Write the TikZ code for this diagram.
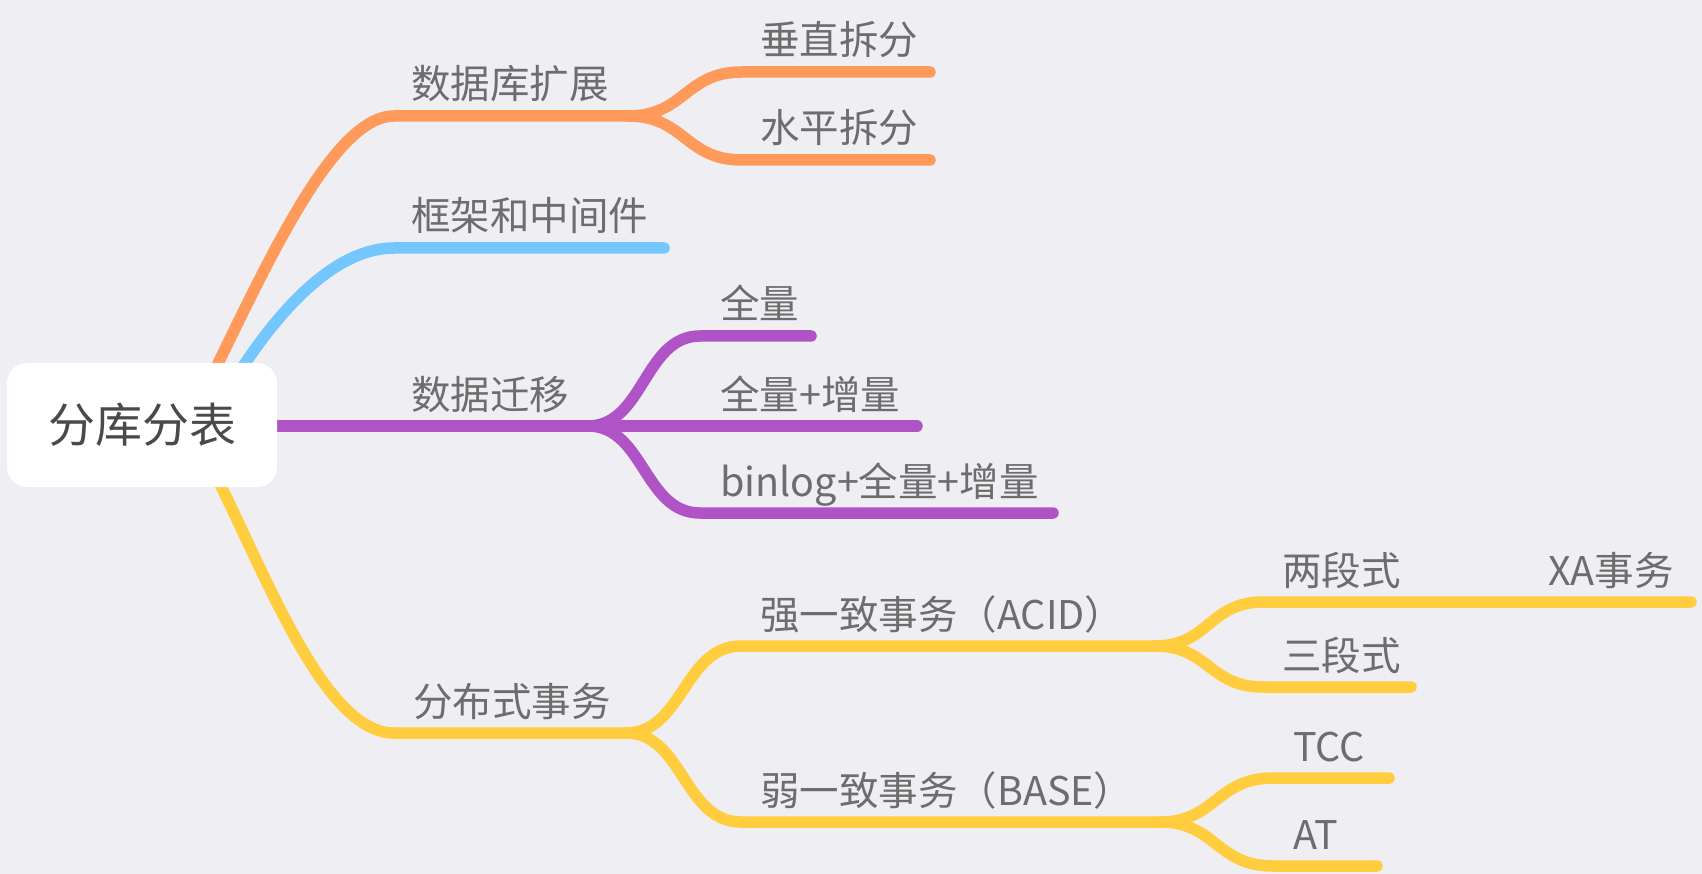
\documentclass[tikz,border=0pt]{standalone}
\usepackage{fontspec}
\setmainfont{Noto Sans CJK SC}
\definecolor{bg}{HTML}{EEEEF3}
\definecolor{orangeL}{HTML}{FF9A5B}
\definecolor{blueL}{HTML}{74C7FE}
\definecolor{purpleL}{HTML}{B053C7}
\definecolor{yellowL}{HTML}{FFCD3D}
\definecolor{txt}{HTML}{6D6D6D}
\definecolor{roottxt}{HTML}{4A4A4A}
\tikzset{
  lbl/.style={anchor=base west, inner sep=0pt, text=txt, font=\fontsize{39.5}{40}\selectfont},
  br/.style={line width=11.5pt, line cap=round, line join=round},
  rootbox/.style={fill=white, rounded corners=20pt, minimum width=270pt, minimum height=124pt, inner sep=0pt, text=roottxt, font=\fontsize{47}{48}\selectfont},
}
\begin{document}
\begin{tikzpicture}[x=1pt,y=-1pt]
\fill[bg] (0,0) rectangle (1702,874);
\useasboundingbox (0,0) rectangle (1702,874);

% anchor points
\coordinate (rO) at (200,400);
\coordinate (rB) at (225,395);
\coordinate (rY) at (205,455);
\coordinate (rP) at (250,426);
\coordinate (dbS) at (394,116);  \coordinate (dbF) at (628,116);
\coordinate (vS) at (742,72);    \coordinate (vE) at (930,72);
\coordinate (hS) at (742,160);   \coordinate (hE) at (930,160);
\coordinate (fwS) at (394,248);  \coordinate (fwE) at (664,248);
\coordinate (mgF) at (588,426);
\coordinate (q1S) at (700,336);  \coordinate (q1E) at (811,336);
\coordinate (q2E) at (917,426);
\coordinate (q3S) at (700,513);  \coordinate (q3E) at (1053,513);
\coordinate (dtS) at (394,733);  \coordinate (dtF) at (626,733);
\coordinate (acS) at (741,646);  \coordinate (acF) at (1155,646);
\coordinate (baS) at (741,822);  \coordinate (baF) at (1160,822);
\coordinate (lpS) at (1263,602); \coordinate (lpE) at (1420,602);
\coordinate (xaS) at (1530,602); \coordinate (xaE) at (1691,602);
\coordinate (tpS) at (1263,687); \coordinate (tpE) at (1411,687);
\coordinate (tcS) at (1273,778); \coordinate (tcE) at (1389,778);
\coordinate (atS) at (1273,866); \coordinate (atE) at (1377,866);

% orange
\draw[br,orangeL] (rO) .. controls (260,280) and (330,116) .. (dbS) -- (dbF);
\draw[br,orangeL] (dbF) .. controls (685,116) and (685,72) .. (vS) -- (vE);
\draw[br,orangeL] (dbF) .. controls (685,116) and (685,160) .. (hS) -- (hE);
% blue
\draw[br,blueL] (rB) .. controls (255,345) and (320,248) .. (fwS) -- (fwE);
% purple
\draw[br,purpleL] (rP) -- (mgF) -- (q2E);
\draw[br,purpleL] (mgF) .. controls (644,426) and (644,336) .. (q1S) -- (q1E);
\draw[br,purpleL] (mgF) .. controls (644,426) and (644,513) .. (q3S) -- (q3E);
% yellow
\draw[br,yellowL] (rY) .. controls (260,557) and (320,733) .. (dtS) -- (dtF);
\draw[br,yellowL] (dtF) .. controls (683,733) and (684,646) .. (acS) -- (acF);
\draw[br,yellowL] (dtF) .. controls (683,733) and (684,822) .. (baS) -- (baF);
\draw[br,yellowL] (acF) .. controls (1209,646) and (1209,602) .. (lpS) -- (lpE) -- (xaS) -- (xaE);
\draw[br,yellowL] (acF) .. controls (1209,646) and (1209,687) .. (tpS) -- (tpE);
\draw[br,yellowL] (baF) .. controls (1216,822) and (1216,778) .. (tcS) -- (tcE);
\draw[br,yellowL] (baF) .. controls (1216,822) and (1216,866) .. (atS) -- (atE);

% root
\node[rootbox] (root) at (142,425) {分库分表};

% labels
\node[lbl] (db) at (411,99) {数据库扩展};
\node[lbl] (vs) at (760,55) {垂直拆分};
\node[lbl] (hs) at (760,143) {水平拆分};
\node[lbl] (fw) at (411,231) {框架和中间件};
\node[lbl] (mg) at (411,409) {数据迁移};
\node[lbl] (q1) at (720,319) {全量};
\node[lbl] (q2) at (720,409) {全量+增量};
\node[lbl] (q3) at (720,496) {binlog+全量+增量};
\node[lbl] (dt) at (413,716) {分布式事务};
\node[lbl] (ac) at (760,629) {强一致事务（ACID）};
\node[lbl] (ba) at (760,805) {弱一致事务（BASE）};
\node[lbl] (lp) at (1282,585) {两段式};
\node[lbl] (xa) at (1548,585) {XA事务};
\node[lbl] (tp) at (1282,670) {三段式};
\node[lbl] (tc) at (1293,761) {TCC};
\node[lbl] (at) at (1293,849) {AT};
\end{tikzpicture}
\end{document}
